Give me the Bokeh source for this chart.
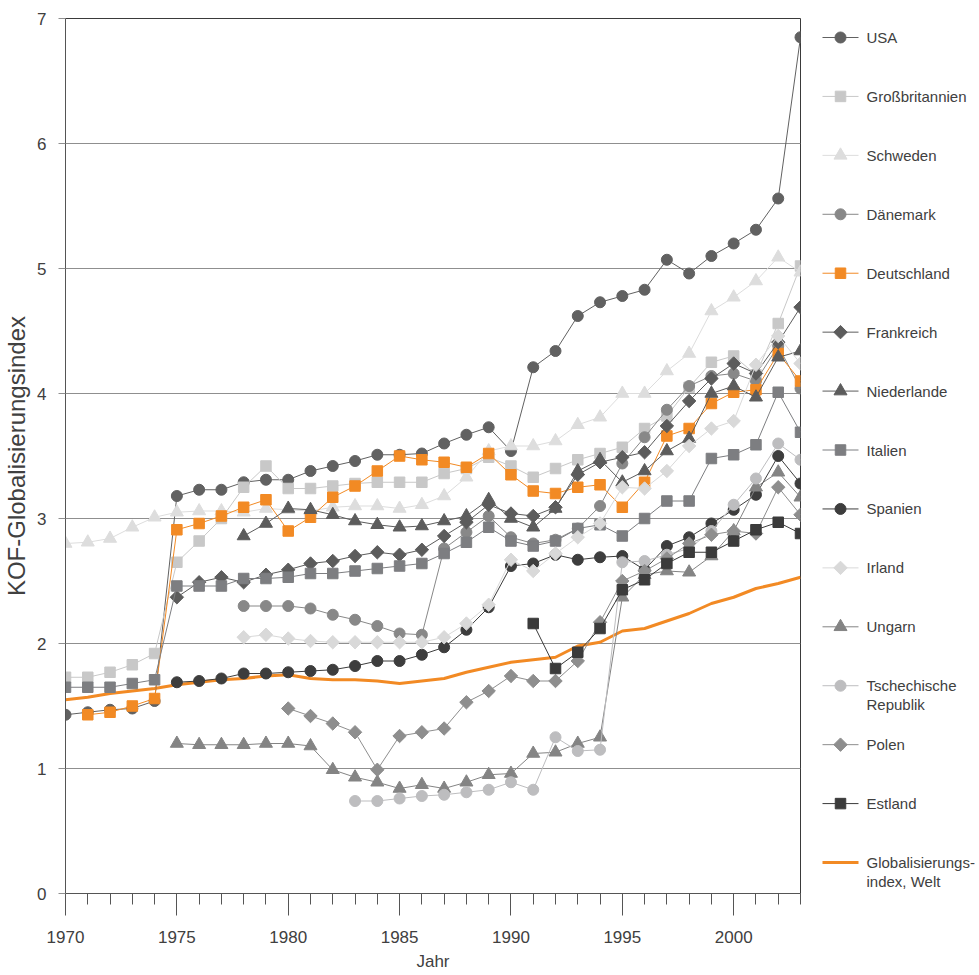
from bokeh.plotting import figure
from bokeh.models import Range1d, FixedTicker
from bokeh.layouts import row
from bokeh.embed import file_html
from bokeh.resources import INLINE
from bokeh.core.properties import value
import numpy as np

# ---------------- data ----------------
years = list(range(1970, 2004))
x_major_ticks = [1970, 1975, 1980, 1985, 1990, 1995, 2000]
y_ticks = [0, 1, 2, 3, 4, 5, 6, 7]

welt_start = 1970
welt = [1.55, 1.57, 1.60, 1.62, 1.64, 1.67, 1.69, 1.71, 1.72, 1.74,
        1.75, 1.72, 1.71, 1.71, 1.70, 1.68, 1.70, 1.72, 1.77, 1.81,
        1.85, 1.87, 1.89, 1.98, 2.01, 2.10, 2.12, 2.18, 2.24, 2.32,
        2.37, 2.44, 2.48, 2.53]

usa_start = 1970
usa = [1.43, 1.45, 1.47, 1.48, 1.54, 3.18, 3.23, 3.23, 3.29, 3.31,
       3.31, 3.38, 3.42, 3.46, 3.51, 3.51, 3.52, 3.60, 3.67, 3.73,
       3.54, 4.21, 4.34, 4.62, 4.73, 4.78, 4.83, 5.07, 4.96, 5.10,
       5.20, 5.31, 5.56, 6.85]

gb_start = 1970
gb = [1.73, 1.73, 1.77, 1.83, 1.92, 2.65, 2.82, 3.00, 3.25, 3.42,
      3.24, 3.24, 3.26, 3.28, 3.29, 3.29, 3.29, 3.36, 3.40, 3.49,
      3.42, 3.33, 3.40, 3.47, 3.52, 3.57, 3.72, 3.82, 4.05, 4.25,
      4.30, 4.15, 4.56, 5.02]

schweden_start = 1970
schweden = [2.80, 2.81, 2.84, 2.93, 3.01, 3.05, 3.06, 3.06, 3.05, 3.08,
            3.07, 3.06, 3.09, 3.10, 3.10, 3.08, 3.11, 3.18, 3.33, 3.54,
            3.58, 3.58, 3.62, 3.75, 3.81, 4.00, 4.00, 4.18, 4.32, 4.66,
            4.77, 4.90, 5.09, 4.97]

daenemark_start = 1978
daenemark = [2.30, 2.30,
             2.30, 2.28, 2.23, 2.19, 2.14, 2.08, 2.07, 2.76, 2.89, 3.02,
             2.85, 2.80, 2.83, 2.92, 3.10, 3.44, 3.65, 3.87, 4.06, 4.14,
             4.16, 4.10, 4.38, 4.04]

deutschland_start = 1971
deutschland = [1.43, 1.45, 1.50, 1.56, 2.91, 2.96, 3.02, 3.09, 3.15,
               2.90, 3.01, 3.17, 3.26, 3.38, 3.50, 3.47, 3.45, 3.41, 3.52,
               3.35, 3.22, 3.20, 3.25, 3.27, 3.09, 3.29, 3.66, 3.72, 3.92,
               4.01, 4.03, 4.32, 4.10]

frankreich_start = 1975
frankreich = [2.37, 2.49, 2.53, 2.49, 2.55,
              2.59, 2.64, 2.66, 2.70, 2.73, 2.71, 2.75, 2.86, 2.97, 3.11,
              3.04, 3.02, 3.09, 3.35, 3.45, 3.49, 3.53, 3.74, 3.94, 4.12,
              4.24, 4.16, 4.41, 4.69]

niederlande_start = 1978
niederlande = [2.86, 2.96,
               3.08, 3.07, 3.03, 2.98, 2.95, 2.93, 2.94, 2.98, 3.02, 3.15,
               3.00, 2.93, 3.08, 3.38, 3.47, 3.29, 3.38, 3.54, 3.64, 4.00,
               4.06, 3.97, 4.29, 4.34]

italien_start = 1970
italien = [1.65, 1.65, 1.65, 1.68, 1.71, 2.46, 2.46, 2.46, 2.52, 2.52,
           2.53, 2.56, 2.56, 2.58, 2.60, 2.62, 2.64, 2.72, 2.81, 2.93,
           2.82, 2.78, 2.82, 2.92, 2.95, 2.86, 3.00, 3.14, 3.14, 3.48,
           3.51, 3.59, 4.01, 3.69]

spanien_start = 1975
spanien = [1.69, 1.70, 1.72, 1.76, 1.76,
           1.77, 1.78, 1.79, 1.82, 1.86, 1.86, 1.91, 1.97, 2.11, 2.29,
           2.62, 2.64, 2.71, 2.67, 2.69, 2.70, 2.59, 2.78, 2.85, 2.96,
           3.07, 3.19, 3.50, 3.28]

irland_start = 1978
irland = [2.05, 2.07,
          2.04, 2.02, 2.01, 2.01, 2.01, 2.01, 2.01, 2.05, 2.16, 2.31,
          2.67, 2.58, 2.72, 2.85, 2.96, 3.25, 3.24, 3.38, 3.58, 3.72,
          3.78, 4.23, 4.46, 4.24]

ungarn_start = 1975
ungarn = [1.20, 1.19, 1.19, 1.19, 1.20,
          1.20, 1.18, 0.99, 0.93, 0.89, 0.84, 0.87, 0.84, 0.89, 0.95,
          0.96, 1.12, 1.13, 1.20, 1.25, 2.37, 2.55, 2.58, 2.57, 2.70,
          2.90, 3.25, 3.37, 3.17]

tschechien_start = 1983
tschechien = [0.74, 0.74, 0.76, 0.78, 0.79, 0.81, 0.83,
              0.89, 0.83, 1.25, 1.14, 1.15, 2.65, 2.66, 2.71, 2.76, 2.90,
              3.11, 3.32, 3.60, 3.47]

polen_start = 1980
polen = [1.48, 1.42, 1.36, 1.29, 0.99, 1.26, 1.29, 1.32, 1.53, 1.62,
         1.74, 1.70, 1.70, 1.86, 2.17, 2.50, 2.58, 2.68, 2.80, 2.87,
         2.90, 2.88, 3.25, 3.03]

estland_start = 1991
estland = [2.16, 1.80, 1.93, 2.12, 2.43, 2.51, 2.64, 2.73, 2.73,
           2.82, 2.91, 2.97, 2.88]

names = ["USA", "Großbritannien", "Schweden", "Dänemark", "Deutschland",
         "Frankreich", "Niederlande", "Italien", "Spanien", "Irland",
         "Ungarn", "Tschechische\nRepublik", "Polen", "Estland",
         "Globalisierungs-\nindex, Welt"]

# ---------------- styles ----------------
FONT = "Liberation Sans"
TXT = "#404040"
ORANGE = "#f28a24"

styles = [  # (start, values, color, marker, size)
    (usa_start, usa, "#616161", "circle", 11),
    (gb_start, gb, "#c8c8c8", "square", 10.5),
    (schweden_start, schweden, "#dddddd", "triangle", 13),
    (daenemark_start, daenemark, "#888888", "circle", 11),
    (deutschland_start, deutschland, ORANGE, "square", 10.5),
    (frankreich_start, frankreich, "#5c5c5c", "diamond", 9.5),
    (niederlande_start, niederlande, "#5c5c5c", "triangle", 13),
    (italien_start, italien, "#7d7e81", "square", 10.5),
    (spanien_start, spanien, "#3d3d3d", "circle", 11),
    (irland_start, irland, "#d9d9d9", "diamond", 9.5),
    (ungarn_start, ungarn, "#848484", "triangle", 13),
    (tschechien_start, tschechien, "#bdbdbf", "circle", 11),
    (polen_start, polen, "#8e8e8e", "diamond", 9.5),
    (estland_start, estland, "#3b3b3b", "square", 10.5),
]


def draw_marker(fig, xs, ys, color, marker, size):
    if marker == "diamond":
        fig.scatter(xs, ys, marker="square", size=size, angle=np.pi / 4,
                    fill_color=color, line_color=color)
    else:
        fig.scatter(xs, ys, marker=marker, size=size,
                    fill_color=color, line_color=color)


# ---------------- layout numbers (page has no body margin in Bokeh's template) ----
LEFT, TOP, FW, FH, RIGHT, BOTTOM = 65, 18, 735, 875, 5, 81
MAIN_W = LEFT + FW + RIGHT
TOTAL_H = TOP + FH + BOTTOM
LEG_W = 172

# ---------------- main plot ----------------
p = figure(width=MAIN_W, height=TOTAL_H, x_range=Range1d(1970, 2003), y_range=Range1d(0, 7),
           output_backend="svg", toolbar_location=None,
           min_border_left=LEFT, min_border_right=RIGHT, min_border_top=TOP,
           min_border_bottom=BOTTOM)
p.background_fill_color = "white"
p.border_fill_color = "white"
p.outline_line_color = "#3a3a3a"
p.outline_line_width = 1

p.xgrid.visible = False
p.ygrid.ticker = FixedTicker(ticks=y_ticks)
p.ygrid.grid_line_color = "#8f8f8f"
p.ygrid.grid_line_width = 1

p.yaxis.ticker = FixedTicker(ticks=y_ticks)
p.yaxis.minor_tick_line_color = None
p.yaxis.major_tick_in = 0
p.yaxis.major_tick_out = 7
p.yaxis.major_tick_line_color = "#8f8f8f"
p.yaxis.axis_line_color = "#555555"
p.yaxis.major_label_standoff = 12
p.yaxis.major_label_text_font = FONT
p.yaxis.major_label_text_font_size = "17px"
p.yaxis.major_label_text_color = TXT
p.yaxis.axis_label = "KOF-Globalisierungsindex"
p.yaxis.axis_label_text_font = FONT
p.yaxis.axis_label_text_font_size = "24px"
p.yaxis.axis_label_text_font_style = "normal"
p.yaxis.axis_label_text_color = TXT
p.yaxis.axis_label_standoff = 4

p.xaxis.ticker = FixedTicker(ticks=x_major_ticks, minor_ticks=years)
p.xaxis.major_tick_in = 0
p.xaxis.major_tick_out = 22
p.xaxis.minor_tick_in = 0
p.xaxis.minor_tick_out = 11
p.xaxis.major_tick_line_color = "#555555"
p.xaxis.minor_tick_line_color = "#555555"
p.xaxis.axis_line_color = "#555555"
p.xaxis.major_label_standoff = 15
p.xaxis.major_label_text_font = FONT
p.xaxis.major_label_text_font_size = "17px"
p.xaxis.major_label_text_color = TXT
p.xaxis.axis_label = "Jahr"
p.xaxis.axis_label_text_font = FONT
p.xaxis.axis_label_text_font_size = "17px"
p.xaxis.axis_label_text_font_style = "normal"
p.xaxis.axis_label_text_color = TXT
p.xaxis.axis_label_standoff = 6

# world index line (behind)
wx = list(range(welt_start, welt_start + len(welt)))
p.line(wx, welt, line_color=ORANGE, line_width=3)

for start, vals, color, marker, size in styles:
    xs = list(range(start, start + len(vals)))
    p.line(xs, vals, line_color=color, line_width=1)
    draw_marker(p, xs, vals, color, marker, size)

# ---------------- legend panel (frame aligned with main frame; y in page px) ----
leg = figure(width=LEG_W, height=TOTAL_H, x_range=Range1d(MAIN_W, MAIN_W + LEG_W),
             y_range=Range1d(TOP + FH, TOP), output_backend="svg", toolbar_location=None,
             x_axis_location=None, y_axis_location=None,
             min_border_left=0, min_border_right=0, min_border_top=TOP,
             min_border_bottom=BOTTOM)
leg.grid.visible = False
leg.outline_line_color = None
leg.background_fill_color = "white"
leg.border_fill_color = "white"

row_y0, row_dy = 37, 58.93
for i, name in enumerate(names):
    ly = row_y0 + i * row_dy
    lines = name.split("\n")
    if i < len(styles):
        _, _, color, marker, size = styles[i]
        leg.line([822, 858], [ly, ly], line_color=color, line_width=1)
        draw_marker(leg, [840], [ly], color, marker, size)
    else:
        leg.line([822, 858], [ly, ly], line_color=ORANGE, line_width=3)
    for k, t in enumerate(lines):
        leg.text([866], [ly + k * 19], text=[t], text_font=value(FONT),
                 text_font_size="15px", text_color=TXT, text_baseline="middle",
                 text_align="left")

layout = row(p, leg)
open("out.html", "w").write(file_html(layout, INLINE))
